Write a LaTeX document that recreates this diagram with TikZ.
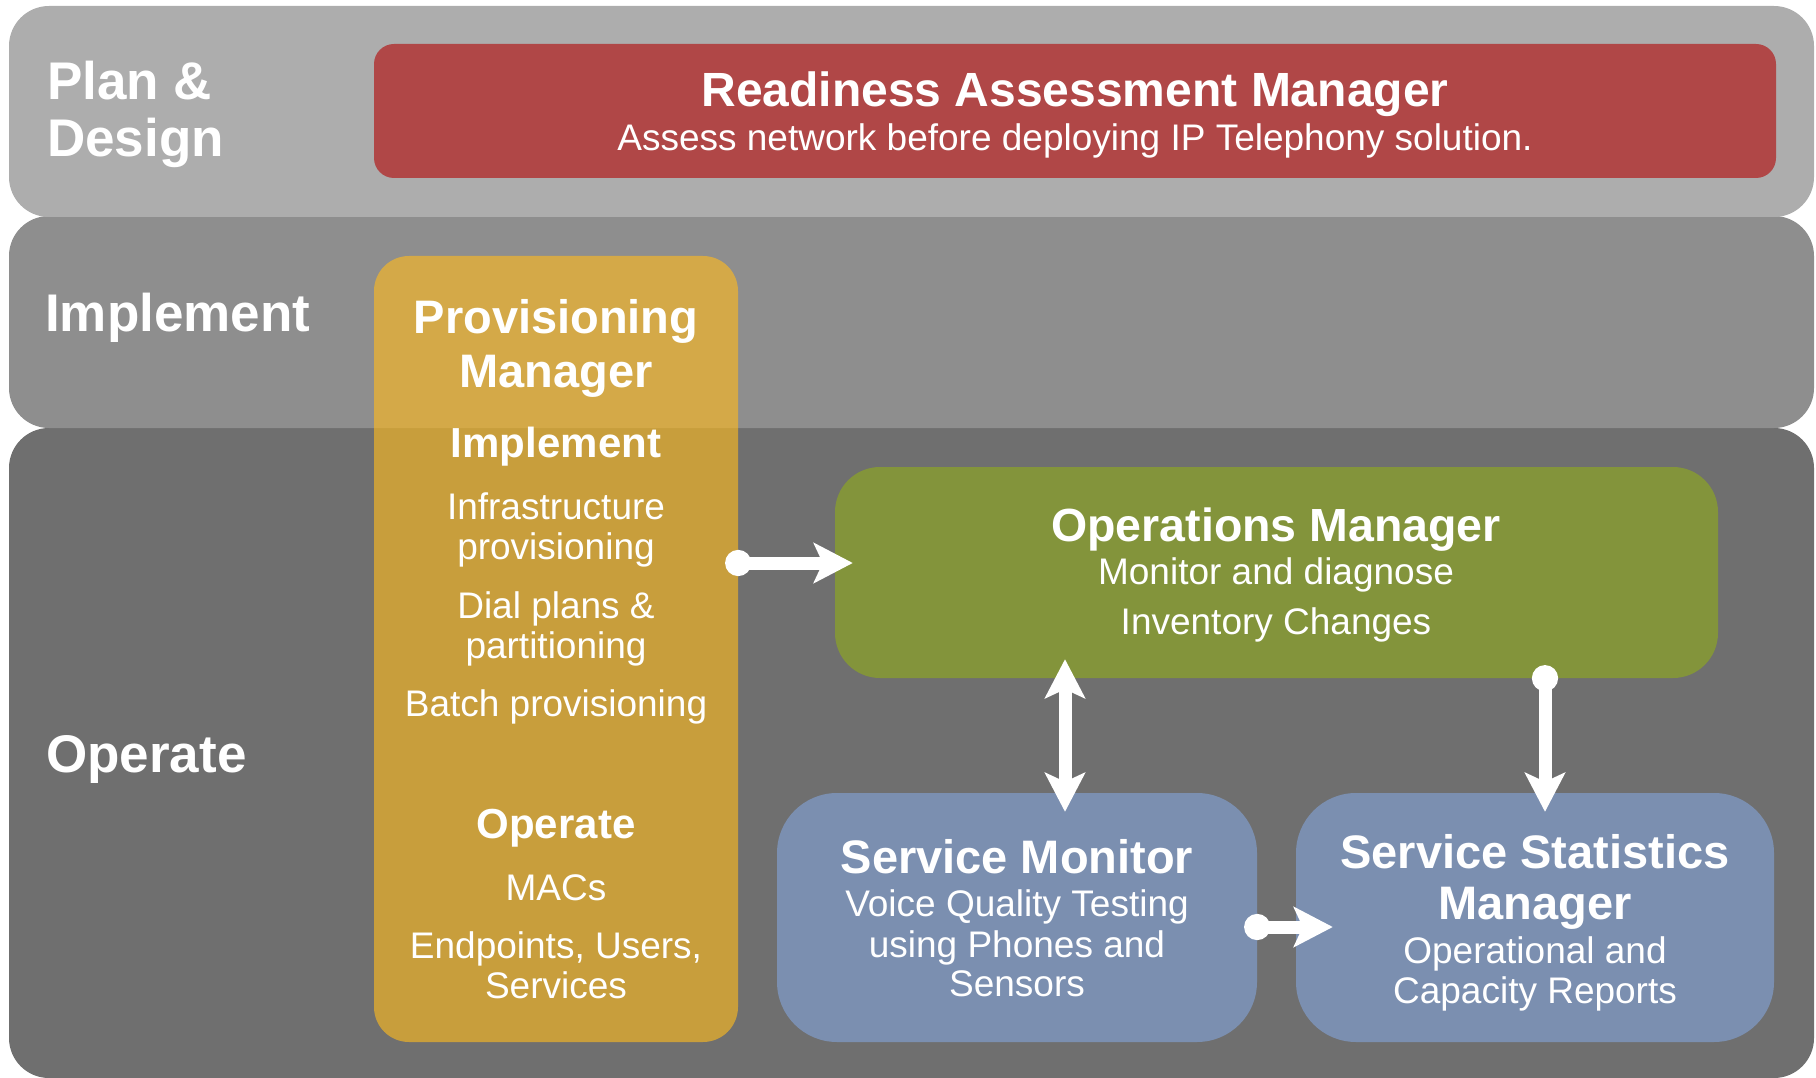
\documentclass[tikz,border=0pt]{standalone}
\usepackage{fontspec}
\setmainfont{Liberation Sans}
\usetikzlibrary{arrows.meta}
\definecolor{bandA}{HTML}{ADADAD}
\definecolor{bandB}{HTML}{8E8E8E}
\definecolor{bandC}{HTML}{6F6F6F}
\definecolor{redbox}{HTML}{B04747}
\definecolor{goldbox}{RGB}{255,187,30}
\definecolor{greenbox}{HTML}{83943B}
\definecolor{bluebox}{HTML}{7B8FB0}
\begin{document}
\begin{tikzpicture}[x=1pt,y=-1pt,
  band/.style={inner sep=0pt, outer sep=0pt, rounded corners=40pt},
  bandlbl/.style={anchor=base west, inner sep=0pt, text=white, font=\fontsize{53}{57}\selectfont\bfseries},
  ttl/.style={anchor=base, inner sep=0pt, text=white, font=\fontsize{47}{53}\selectfont\bfseries},
  sub/.style={anchor=base, inner sep=0pt, text=white, font=\fontsize{42}{46}\selectfont\bfseries},
  txt/.style={anchor=base, inner sep=0pt, text=white, font=\fontsize{37}{40}\selectfont},
  conn/.style={draw=white, line width=13pt, {Circle[length=26pt]}-{Stealth[length=39pt,width=40pt,inset=9pt]}, shorten <=-13pt},
  dbl/.style={draw=white, line width=13pt, {Stealth[length=39pt,width=40pt,inset=9pt]}-{Stealth[length=39pt,width=40pt,inset=9pt]}}
]
\useasboundingbox (0,0) rectangle (1816,1078);
% bands
\fill[bandC, band] (9,428) rectangle (1814,1078);
\fill[bandB, band] (9,216) rectangle (1814,428);
\fill[bandA, band] (9,6) rectangle (1814,217);
\node[bandlbl] (lplan) at (47,100) {Plan \&};
\node[bandlbl] (ldesign) at (47,157) {Design};
\node[bandlbl] (limpl) at (45,331) {Implement};
\node[bandlbl] (loper) at (46,772) {Operate};
% boxes
\path[fill=redbox, rounded corners=20pt] (374,44) rectangle (1776,178);
\node[inner sep=0pt, minimum width=1402pt, minimum height=134pt] (ram) at (1075,111) {};
\path[fill=goldbox, fill opacity=0.62, rounded corners=35pt] (374,256) rectangle (738,1042);
\node[inner sep=0pt, minimum width=364pt, minimum height=786pt] (prov) at (556,649) {};
\path[fill=greenbox, rounded corners=45pt] (835,467) rectangle (1718,678);
\node[inner sep=0pt, minimum width=883pt, minimum height=211pt] (ops) at (1276.5,572.5) {};
\path[fill=bluebox, rounded corners=60pt] (777,793) rectangle (1257,1042);
\node[inner sep=0pt, minimum width=480pt, minimum height=249pt] (sm) at (1017,917.5) {};
\path[fill=bluebox, rounded corners=60pt] (1296,793) rectangle (1774,1042);
\node[inner sep=0pt, minimum width=478pt, minimum height=249pt] (ssm) at (1535,917.5) {};
% red box text
\node[ttl, font=\fontsize{48}{53}\selectfont\bfseries] (ramt) at (1075,107) {Readiness Assessment Manager};
\node[txt] (ramd) at (1075,151) {Assess network before deploying IP Telephony solution.};
% provisioning text
\node[ttl] (pv1) at (556,334) {Provisioning};
\node[ttl] (pv2) at (556,387) {Manager};
\node[sub] (pv3) at (556,457) {Implement};
\node[txt] (pv4) at (556,519) {Infrastructure};
\node[txt] (pv5) at (556,559) {provisioning};
\node[txt] (pv6) at (556,618) {Dial plans \&};
\node[txt] (pv7) at (556,658) {partitioning};
\node[txt] (pv8) at (556,716) {Batch provisioning};
\node[sub] (pv9) at (556,838) {Operate};
\node[txt] (pv10) at (556,900) {MACs};
\node[txt] (pv11) at (556,958) {Endpoints, Users,};
\node[txt] (pv12) at (556,998) {Services};
% operations text
\node[ttl, font=\fontsize{46.5}{51}\selectfont\bfseries] (op1) at (1276,541) {Operations Manager};
\node[txt] (op2) at (1276,584) {Monitor and diagnose};
\node[txt] (op3) at (1276,634) {Inventory Changes};
% service monitor text
\node[ttl] (sm1) at (1017,873) {Service Monitor};
\node[txt] (sm2) at (1017,916) {Voice Quality Testing};
\node[txt] (sm3) at (1017,957) {using Phones and};
\node[txt] (sm4) at (1017,996) {Sensors};
% ssm text
\node[ttl] (ss1) at (1535,868) {Service Statistics};
\node[ttl] (ss2) at (1535,919) {Manager};
\node[txt] (ss3) at (1535,963) {Operational and};
\node[txt] (ss4) at (1535,1003) {Capacity Reports};
% connectors
\coordinate (a1) at (prov.east |- 0,563);
\draw[conn, shorten >=-18pt] (a1) -- (ops.west |- a1);
\coordinate (a2t) at (1065,678);
\draw[dbl, shorten <=-19pt, shorten >=-19pt] (ops.south -| a2t) -- (sm.north -| a2t);
\coordinate (a3) at (1545,678);
\draw[conn, shorten >=-19pt] (ops.south -| a3) -- (ssm.north -| a3);
\coordinate (a4) at (sm.east |- 0,927);
\draw[conn, shorten >=-37pt] (a4) -- (ssm.west |- a4);
\end{tikzpicture}
\end{document}
